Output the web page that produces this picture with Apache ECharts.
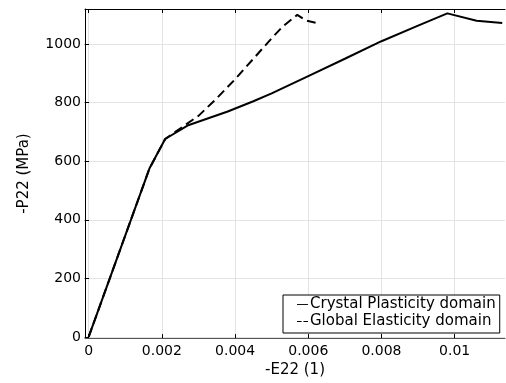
<!DOCTYPE html>
<html>
<head>
<meta charset="utf-8">
<script src="https://cdn.jsdelivr.net/npm/echarts@6/dist/echarts.min.js"></script>
<style>html,body{margin:0;padding:0;background:#fff}#c{width:506px;height:383px}</style>
</head>
<body>
<div id="c"></div>
<script>
// Crystal Plasticity domain: [-E22, -P22]
const crystalX = [0, 0.00166, 0.00209, 0.0027, 0.0038, 0.0045, 0.005, 0.006, 0.007, 0.008, 0.009, 0.0098, 0.0106, 0.0113];
const crystalY = [0, 575, 676, 722, 770, 805, 832, 891, 950, 1010, 1063, 1105, 1080, 1072];
// Global Elasticity domain
const globalX = [0, 0.00166, 0.00209, 0.0025, 0.003, 0.0035, 0.004, 0.0045, 0.005, 0.0053, 0.0057, 0.00595, 0.0062];
const globalY = [0, 575, 676, 712, 755, 815, 880, 950, 1020, 1060, 1100, 1080, 1073];
const xTicks = [0, 0.002, 0.004, 0.006, 0.008, 0.01];
const xTickLabels = ['0', '0.002', '0.004', '0.006', '0.008', '0.01'];
const yTicks = [0, 200, 400, 600, 800, 1000];
const yTickLabels = ['0', '200', '400', '600', '800', '1000'];
const seriesNames = ['Crystal Plasticity domain', 'Global Elasticity domain'];

const FONT = 'DejaVu Sans';
const chart = echarts.init(document.getElementById('c'), null, {renderer: 'canvas'});
const pairs = (xs, ys) => xs.map((x, i) => [x, ys[i]]);
const xLab = v => { const i = xTicks.findIndex(t => Math.abs(t - v) < 1e-9); return i >= 0 ? xTickLabels[i] : ''; };
const yLab = v => { const i = yTicks.findIndex(t => Math.abs(t - v) < 1e-9); return i >= 0 ? yTickLabels[i] : ''; };

const baseX = {
  type: 'value', min: -0.0001, max: 0.011375,
  splitLine: {show: false},
  axisTick: {show: true, inside: true, length: 4, customValues: xTicks, lineStyle: {color: '#000'}},
};
const baseY = {
  type: 'value', min: -4, max: 1120,
  splitLine: {show: false},
  axisTick: {show: true, inside: true, length: 4, customValues: yTicks, lineStyle: {color: '#000'}},
};

chart.setOption({
  animation: false,
  backgroundColor: '#fff',
  textStyle: {fontFamily: FONT},
  grid: {left: 85, right: 1, top: 9, bottom: 38, containLabel: false},
  legend: {
    orient: 'vertical', left: 283, top: 295,
    backgroundColor: '#fff', borderColor: '#000', borderWidth: 1, borderRadius: 0,
    padding: [2, 4, 4, 14], itemGap: 2, itemWidth: 11, itemHeight: 2,
    textStyle: {fontFamily: FONT, fontSize: 15, color: '#000', padding: [0, 0, 0, -3]},
    data: [
      {name: seriesNames[0], icon: 'path://M0,0H12V1H0Z', itemStyle: {color: '#000'}},
      {name: seriesNames[1], icon: 'path://M0,0H5V1H0ZM7,0H12V1H7Z', itemStyle: {color: '#000'}}
    ]
  },
  xAxis: [
    Object.assign({}, baseX, {
      position: 'bottom',
      name: '-E22 (1)', nameLocation: 'middle', nameGap: 21,
      nameTextStyle: {fontFamily: FONT, fontSize: 15, color: '#000'},
      axisLine: {show: true, onZero: false, lineStyle: {color: '#555', width: 1}},
      axisLabel: {show: true, customValues: xTicks, formatter: xLab, margin: 6, fontFamily: FONT, fontSize: 14, color: '#000'},
      splitLine: {show: true, lineStyle: {color: '#e3e3e3', width: 1}}
    }),
    Object.assign({}, baseX, {
      position: 'top',
      axisLine: {show: true, onZero: false, lineStyle: {color: '#000', width: 1}},
      axisLabel: {show: false}
    })
  ],
  yAxis: [
    Object.assign({}, baseY, {
      position: 'left',
      name: '-P22 (MPa)', nameLocation: 'middle', nameGap: 53,
      nameTextStyle: {fontFamily: FONT, fontSize: 15, color: '#000'},
      axisLine: {show: true, onZero: false, lineStyle: {color: '#000', width: 1}},
      axisLabel: {show: true, customValues: yTicks, formatter: yLab, margin: 4, fontFamily: FONT, fontSize: 14, color: '#000'},
      splitLine: {show: true, lineStyle: {color: '#e3e3e3', width: 1}}
    }),
    Object.assign({}, baseY, {
      position: 'right',
      axisLine: {show: false},
      axisLabel: {show: false}
    })
  ],
  series: [
    {
      name: seriesNames[0], type: 'line', xAxisIndex: 0, yAxisIndex: 0,
      data: pairs(crystalX, crystalY), showSymbol: false, symbol: 'none',
      lineStyle: {color: '#000', width: 2}, itemStyle: {color: '#000'}, z: 3
    },
    {
      name: seriesNames[1], type: 'line', xAxisIndex: 0, yAxisIndex: 0,
      data: pairs(globalX, globalY), showSymbol: false, symbol: 'none',
      lineStyle: {color: '#000', width: 2, type: [9, 5]}, itemStyle: {color: '#000'}, z: 2
    }
  ]
});
</script>
</body>
</html>
